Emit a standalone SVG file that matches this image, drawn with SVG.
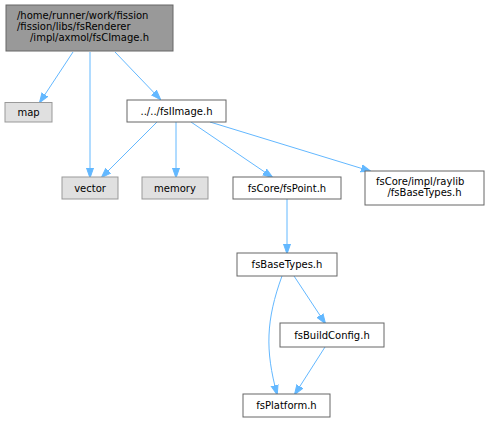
<svg xmlns="http://www.w3.org/2000/svg" width="489" height="423" viewBox="0 0 489 423">
<style>
.n rect{fill:#fff;stroke:#666;stroke-width:1}
.g rect{fill:#e0e0e0;stroke:#999;stroke-width:1}
.r rect{fill:#999;stroke:#666;stroke-width:1}
text{font-family:"DejaVu Sans",sans-serif;font-size:10px;fill:#000}
.m{text-anchor:middle}
.e path{fill:none;stroke:#63b8ff;stroke-width:1}
</style>
<defs>
<marker id="a" markerWidth="10" markerHeight="10" refX="9" refY="5" orient="auto" markerUnits="userSpaceOnUse" viewBox="0 0 10 10">
<path d="M0,1.5 L10,5 L0,8.5 Z" fill="#63b8ff" stroke="#63b8ff"/>
</marker>
</defs>
<g class="e" id="edges">
<path d="M73,52 L40,102" marker-end="url(#a)"/>
<path d="M90,52 L90,177" marker-end="url(#a)"/>
<path d="M115,52 L160,99" marker-end="url(#a)"/>
<path d="M157,122 L102,177" marker-end="url(#a)"/>
<path d="M176,122 L176,177" marker-end="url(#a)"/>
<path d="M191,122 L272,177" marker-end="url(#a)"/>
<path d="M210,122 L370,171" marker-end="url(#a)"/>
<path d="M287,199 L287,253" marker-end="url(#a)"/>
<path d="M282,276 C266,320 265,350 277,394" marker-end="url(#a)"/>
<path d="M294,276 L325,323" marker-end="url(#a)"/>
<path d="M325,347 L295,394" marker-end="url(#a)"/>
</g>
<g class="r" id="root"><rect x="6" y="5" width="167" height="46"/>
<text x="17" y="19">/home/runner/work/fission</text>
<text x="17" y="30">/fission/libs/fsRenderer</text>
<text x="89.5" y="41" class="m">/impl/axmol/fsCImage.h</text></g>
<g class="g" id="map"><rect x="5" y="102.5" width="47" height="19.5"/><text x="28.5" y="116" class="m">map</text></g>
<g class="n" id="fsIImage"><rect x="127" y="100" width="99" height="22"/><text x="176.5" y="115" class="m">../../fsIImage.h</text></g>
<g class="g" id="vector"><rect x="62" y="177" width="56" height="22"/><text x="90" y="192" class="m">vector</text></g>
<g class="g" id="memory"><rect x="142" y="177" width="66" height="22"/><text x="175" y="192" class="m">memory</text></g>
<g class="n" id="fsPoint"><rect x="233" y="177" width="108" height="22"/><text x="287" y="192" class="m">fsCore/fsPoint.h</text></g>
<g class="n" id="raylibBaseTypes"><rect x="365" y="171" width="119" height="34"/>
<text x="376" y="185">fsCore/impl/raylib</text>
<text x="424.5" y="196" class="m">/fsBaseTypes.h</text></g>
<g class="n" id="fsBaseTypes"><rect x="237" y="253" width="100" height="23"/><text x="287" y="268" class="m">fsBaseTypes.h</text></g>
<g class="n" id="fsBuildConfig"><rect x="280" y="323" width="104" height="24"/><text x="332" y="339" class="m">fsBuildConfig.h</text></g>
<g class="n" id="fsPlatform"><rect x="243" y="394" width="87" height="23"/><text x="286.5" y="409" class="m">fsPlatform.h</text></g>
</svg>
